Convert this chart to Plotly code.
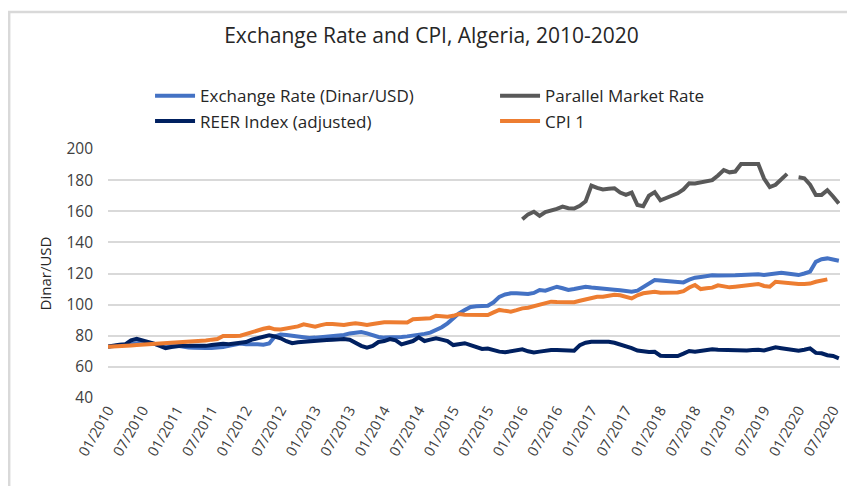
import plotly.graph_objects as go

# monthly observations, 01/2010 .. 08/2020
years = list(range(2010, 2021))
months = [f"{mo:02d}/{yr}" for yr in years for mo in range(1, 13)][:128]
tick_labels = [m for m in months if m[:2] in ("01", "07")]

exchange_rate = [
    73.0, 73.5, 73.8, 74.2, 74.8, 75.5, 75.6, 75.2, 74.8, 74.3, 73.9, 74.2,
    73.5, 72.8, 72.5, 72.3, 72.0, 72.2, 72.1, 72.3, 72.8, 73.6, 74.4, 75.0,
    74.5, 74.8, 74.5, 74.2, 75.0, 79.5, 80.8, 80.5, 80.0, 79.2, 78.8, 78.6,
    78.8, 79.2, 79.4, 79.5, 79.8, 80.5, 81.5, 82.2, 82.4, 81.5, 80.0, 79.2,
    78.8, 78.8, 79.0, 79.2, 79.6, 80.0, 80.5, 81.2, 82.0, 83.5, 85.5, 88.0,
    91.0, 94.4, 96.5, 98.5, 99.0, 99.2, 99.3, 101.5, 105.0, 106.5, 107.3, 107.3,
    107.0, 106.8, 107.5, 109.4, 109.0, 110.2, 111.5, 110.5, 109.4, 110.0, 110.8, 111.5,
    111.0, 110.5, 110.0, 110.0, 109.5, 109.2, 108.5, 108.3, 109.0, 111.5, 113.5, 115.8,
    115.5, 115.2, 114.6, 114.1, 114.3, 116.0, 117.3, 117.8, 118.5, 118.8, 118.7, 118.6,
    118.6, 118.8, 119.0, 119.3, 119.7, 119.5, 119.0, 119.5, 120.0, 120.5, 120.0, 119.5,
    119.0, 120.0, 121.2, 127.5, 129.2, 129.7, 129.2, 128.2,
]

parallel_rate = [None] * 72 + [
    154.8, 158.0, 159.7, 157.0, 159.5, 160.4, 161.5, 163.0, 162.0, 161.8, 163.5, 166.4,
    176.5, 175.0, 174.0, 174.5, 174.8, 172.0, 170.5, 172.0, 164.0, 163.2, 170.0, 172.3,
    167.0, 168.5, 170.2, 171.5, 174.0, 178.0, 177.8, 178.5, 179.7, 180.0, 183.0, 186.5,
    185.0, 185.5, 190.4, 190.4, 190.4, 190.4, 181.0, 175.5, 177.0, 180.5, 184.0, None,
    181.8, 181.2, 177.0, 170.5, 170.5, 173.5, 169.5, 165.0,
]

reer_index = [
    73.0, 73.8, 74.2, 74.5, 77.0, 78.0, 77.2, 75.8, 75.0, 73.5, 72.0, 72.8,
    73.5, 73.8, 73.5, 73.5, 73.2, 73.5, 74.0, 74.5, 74.8, 74.5, 75.0, 75.5,
    76.0, 77.5, 78.4, 79.5, 80.3, 79.5, 78.4, 76.5, 75.2, 75.8, 76.2, 76.6,
    76.8, 77.0, 77.2, 77.5, 77.8, 77.9, 77.5, 75.2, 73.5, 72.4, 73.5, 76.0,
    76.6, 77.9, 77.0, 74.5, 75.5, 76.6, 79.0, 76.6, 77.5, 78.4, 77.5, 76.6,
    74.0, 74.6, 75.2, 74.0, 72.5, 71.5, 71.8, 70.5, 69.8, 69.4, 70.0, 70.8,
    71.3, 70.0, 69.3, 69.8, 70.5, 70.8, 70.8, 70.6, 70.5, 70.4, 74.0, 75.5,
    76.2, 76.3, 76.2, 76.2, 75.5, 74.5, 73.5, 72.0, 70.5, 69.8, 69.6, 69.7,
    67.2, 67.0, 67.0, 67.0, 68.5, 70.2, 69.8, 70.2, 70.8, 71.3, 71.0, 70.8,
    70.8, 70.8, 70.8, 70.6, 70.8, 71.0, 70.5, 71.5, 72.6, 72.0, 71.5, 70.8,
    70.4, 71.0, 71.9, 69.0, 68.7, 67.5, 67.0, 65.5,
]

cpi = [
    73.0, 73.3, 73.8, 74.0, 73.8, 74.0, 74.2, 74.5, 74.6, 74.8, 75.0, 75.3,
    75.5, 75.8, 76.0, 76.2, 76.5, 77.0, 77.5, 77.9, 79.8, 79.5, 79.8, 80.0,
    81.2, 82.6, 83.5, 84.5, 85.2, 84.1, 84.0, 84.5, 85.2, 86.0, 87.3, 86.5,
    85.8, 86.8, 87.6, 87.6, 87.3, 86.9, 87.5, 88.0, 87.5, 86.9, 87.5, 88.3,
    88.6, 88.6, 88.4, 88.5, 88.5, 90.6, 90.8, 91.0, 91.2, 92.9, 92.5, 92.2,
    92.8, 94.0, 93.5, 93.3, 93.5, 93.5, 93.3, 95.0, 96.6, 96.0, 95.5, 96.5,
    97.6, 98.0, 99.0, 99.8, 101.0, 101.9, 101.7, 101.6, 101.5, 101.5, 102.5, 103.4,
    104.2, 105.1, 105.0, 105.5, 106.4, 106.0, 104.8, 104.0, 106.0, 107.3, 107.8, 108.3,
    107.6, 107.5, 107.3, 107.8, 108.6, 111.0, 112.6, 110.0, 110.5, 110.9, 112.4, 111.5,
    111.1, 111.5, 112.0, 112.2, 112.8, 113.3, 112.0, 111.5, 114.7, 114.2, 113.7, 113.5,
    113.3, 113.3, 113.5, 114.7, 115.5, 116.2,
]

series = [
    ("Exchange Rate (Dinar/USD)", exchange_rate, "#4472C4"),
    ("Parallel Market Rate", parallel_rate, "#595959"),
    ("REER Index (adjusted)", reer_index, "#002060"),
    ("CPI 1", cpi, "#ED7D31"),
]

FONT = "Open Sans, Calibri, sans-serif"

fig = go.Figure()
for name, values, color in series:
    fig.add_trace(go.Scatter(
        x=months[:len(values)],
        y=values,
        mode="lines",
        name=name,
        line=dict(color=color, width=4),
        connectgaps=False,
    ))

# the page adds an 8px body margin, so the figure is drawn 8px smaller
fig.update_layout(
    width=847,
    height=478,
    margin=dict(l=100, r=15, t=141, b=88),
    paper_bgcolor="white",
    plot_bgcolor="white",
    font=dict(family=FONT, size=15, color="#404040"),
    title=dict(
        text="Exchange Rate and CPI, Algeria, 2010-2020",
        x=0.5, xanchor="center", y=0.942, yanchor="middle",
        font=dict(family=FONT, size=21, color="#262626"),
    ),
    legend=dict(
        orientation="h",
        xref="container", x=0.1677, xanchor="left",
        yref="container", y=0.853, yanchor="top",
        entrywidth=290,
        itemwidth=40,
        tracegroupgap=0,
        font=dict(family=FONT, size=17, color="#262626"),
        bgcolor="rgba(0,0,0,0)",
    ),
    showlegend=True,
)

fig.update_xaxes(
    type="category",
    categoryorder="array",
    categoryarray=months,
    range=[0, 127.2],
    tickmode="array",
    tickvals=tick_labels,
    ticktext=tick_labels,
    tickangle=-60,
    showgrid=False,
    showline=False,
    zeroline=False,
    ticks="",
    automargin=False,
    tickfont=dict(size=14.5),
)

fig.update_yaxes(
    range=[40, 200],
    dtick=20,
    showgrid=True,
    gridcolor="#D9D9D9",
    gridwidth=1.5,
    zeroline=False,
    showline=False,
    ticks="",
    automargin=False,
    ticklabelstandoff=14,
    tickfont=dict(size=15.5),
    title=dict(text="Dinar/USD", standoff=11, font=dict(size=15, color="#262626")),
)

# chart-area frame (left and top edges are visible in the picture)
fig.add_shape(
    type="rect", xref="paper", yref="paper",
    x0=-0.135, x1=1.05, y0=-0.4, y1=1.55,
    line=dict(color="#D9D9D9", width=2.5),
    fillcolor="rgba(0,0,0,0)",
    layer="below",
)

fig.write_html("out.html")
